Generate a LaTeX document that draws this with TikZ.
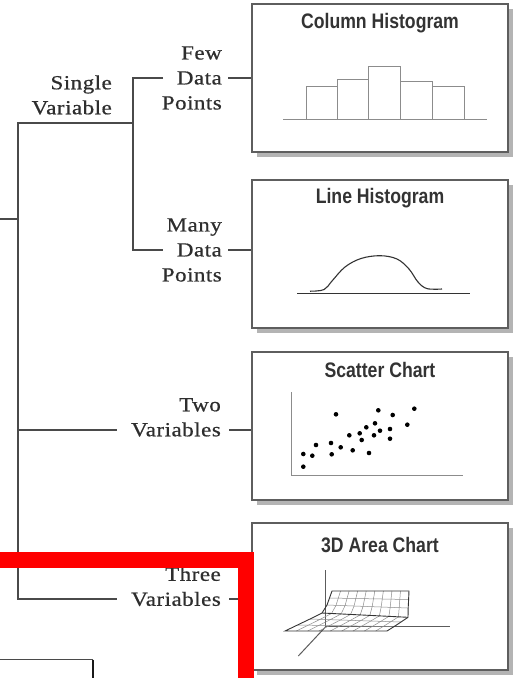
\documentclass[tikz,border=0pt]{standalone}
\usepackage{fontspec}
\setmainfont{Liberation Serif}[FakeStretch=1.15,LetterSpace=2.5,FakeBold=0.6]
\newfontfamily\titlefont{Liberation Sans}[FakeStretch=0.84]
\usetikzlibrary{calc,shadows}
\definecolor{treeline}{HTML}{4A4A4A}
\definecolor{txt}{HTML}{2E2E2E}
\definecolor{boxline}{HTML}{5E5E5E}
\definecolor{shadowgray}{HTML}{B4B4B4}
\definecolor{barline}{HTML}{8C8C8C}
\definecolor{ink}{HTML}{333333}
\begin{document}
\begin{tikzpicture}[x=1pt,y=-1pt,
  tree/.style={draw=treeline,line width=1.4pt},
  lbl/.style={font=\fontsize{20}{25}\selectfont,text=txt,align=right,inner sep=0pt,anchor=east},
  chartbox/.style={draw=boxline,line width=1.4pt,fill=white,minimum width=256pt,minimum height=148pt,inner sep=0pt,
    drop shadow={shadow xshift=5pt,shadow yshift=-5pt,fill=shadowgray,opacity=1}},
  ttl/.style={font=\titlefont\bfseries\fontsize{21}{24}\selectfont,text=ink,inner sep=0pt},
  bars/.style={draw=barline,line width=1pt},
  curveline/.style={draw=ink,line width=1.1pt},
  axisline/.style={draw=barline,line width=1pt},
  dot/.style={fill=black},
  meshout/.style={draw=ink,line width=0.9pt},
  meshgrid/.style={draw=barline,line width=0.5pt}]
\useasboundingbox (0,0) rectangle (513,678);
\fill[white] (0,0) rectangle (513,678);

% ---------- boxes ----------
\node[chartbox] (col) at (380,78) {};
\node[chartbox] (lin) at (380,254) {};
\node[chartbox] (sca) at (380,426) {};
\node[chartbox,minimum height=147pt] (are) at (380,596.5) {};

\node[ttl] (colt) at (380,22.7) {Column Histogram};
\node[ttl] (lint) at (380,198.3) {Line Histogram};
\node[ttl] (scat) at (380,370) {Scatter Chart};
\node[ttl] (aret) at (380,545) {3D Area Chart};

% ---------- column histogram ----------
\draw[bars] (306,119) rectangle (337,86.7);
\draw[bars] (337,119) rectangle (368,79);
\draw[bars] (368,119) rectangle (400,66.7);
\draw[bars] (400,119) rectangle (432,81.7);
\draw[bars] (432,119) rectangle (464,86.7);
\draw[bars] (283,119) -- (487,119);

% ---------- line histogram ----------
\draw[curveline] (297,293.5) -- (470,293.5);
\draw[curveline] plot[smooth,tension=0.6] coordinates
  {(310,291.2) (324,289.6) (332,281) (345,267) (361,258.5) (380,255.7) (397,259) (409,269) (418,282) (427,288.6) (442,289)};

% ---------- scatter chart ----------
\draw[axisline] (291.7,392) -- (291.7,475) -- (463,475);
\foreach \px/\py in {336/414.3,378.3/410.3,392.7/415,414.3/408.7,407.3/424.7,375/423.3,366.3/427.3,390/429,380/430.7,359.7/433.3,349.3/435.3,374/435.3,361.7/440,390/438.7,331/443,316/445,340.7/447.3,352.7/450.3,369/453,303.3/454,312.3/455.7,331.7/454.3,303.3/466.7}
  \fill[dot] (\px,\py) circle (2.3pt);

% ---------- 3D area chart ----------
\coordinate (O) at (325.7,626.7);
\draw[axisline,draw=ink!80] (325.7,570) -- (O) -- (450,626.7);
\draw[axisline,draw=ink!80] (O) -- (298.3,656);
\foreach \ax/\ay/\bx/\by [count=\i] in {285/631/387/631, 297.5/625/394/626.6, 310/619/401/622, 322/613/408/617.3, 327/605/408.2/608, 329.5/598/408.6/599.5, 332/591/409/591}{
  \coordinate (A\i) at (\ax,\ay);
  \coordinate (B\i) at (\bx,\by);
}
\foreach \s in {0.111,0.222,0.333,0.444,0.556,0.667,0.778,0.889}
  \draw[meshgrid] ($(A1)!\s!(B1)$) -- ($(A2)!\s!(B2)$) -- ($(A3)!\s!(B3)$) -- ($(A4)!\s!(B4)$) -- ($(A5)!\s!(B5)$) -- ($(A6)!\s!(B6)$) -- ($(A7)!\s!(B7)$);
\foreach \k in {2,3,5,6}
  \draw[meshgrid] (A\k) -- (B\k);
\draw[meshout] (A4) -- (B4);
\draw[meshout] (A1) -- (A2) -- (A3) -- (A4) -- (A5) -- (A6) -- (A7) -- (B7) -- (B6) -- (B5) -- (B4) -- (B3) -- (B2) -- (B1) -- cycle;

% ---------- tree labels ----------
\node[lbl] (single) at (112,95) {Single\\Variable};
\node[lbl] (few) at (222,78) {Few\\Data\\Points};
\node[lbl] (many) at (222,250) {Many\\Data\\Points};
\node[lbl] (two) at (221,417.4) {Two\\Variables};
\node[lbl] (three) at (221,586.5) {Three\\Variables};

% ---------- tree connectors ----------
\coordinate (root) at (0,219);
\coordinate (trunkTop) at (18,123);
\coordinate (trunkBot) at (18,599);
\coordinate (subTop) at (133,78);
\coordinate (subBot) at (133,250);
\coordinate (fewEnd) at (163,78);
\coordinate (manyEnd) at (163,250);
\coordinate (twoStart) at (18,430);
\coordinate (twoEnd) at (117,430);
\coordinate (threeEnd) at (117,599);
\coordinate (twoStub) at (229,430);
\coordinate (threeStub) at (229,599);

\draw[tree] (root) -- (root -| trunkTop);
\draw[tree] (subTop |- trunkTop) -- (trunkTop) -- (trunkBot) -- (threeEnd);
\draw[tree] (twoStart) -- (twoEnd);
\draw[tree] (fewEnd) -- (subTop) -- (subBot) -- (manyEnd);
\draw[tree] ([xshift=6pt]few.east) -- (few.east -| col.west);
\draw[tree] ([xshift=6pt]many.east) -- (many.east -| lin.west);
\draw[tree] (twoStub) -- (twoStub -| sca.west);
\draw[tree] (threeStub) -- (threeStub -| are.west);

% ---------- annotation marks ----------
\draw[draw=treeline,line width=1.2pt] (0,659.5) -- (93,659.5);
\draw[draw=black!90,line width=2.2pt] (93,659.5) -- (93,678);
\fill[red] (0,552) rectangle (254,568);
\fill[red] (238,552) rectangle (254,678);
\end{tikzpicture}
\end{document}
